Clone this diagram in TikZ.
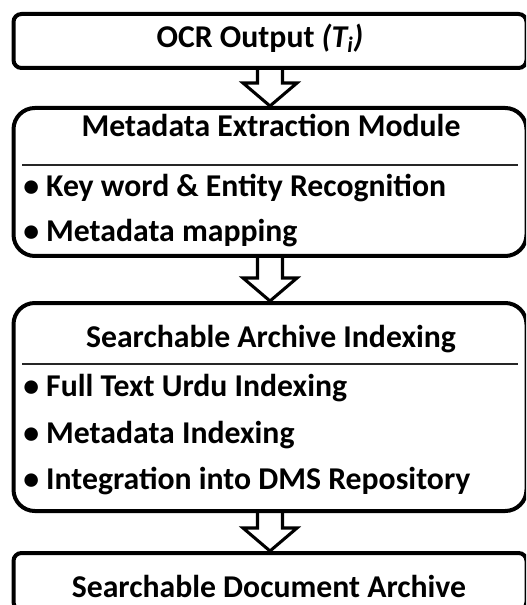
\documentclass[tikz,border=0pt]{standalone}
\usepackage{fontspec}
\setmainfont{Carlito}
\usetikzlibrary{calc}

% hollow down arrow from the bottom of one box to the top of the next
\newcommand{\flowarrow}[2]{%
  \draw[flow] ($(#1.south)+(-12.5,0)$) -- ($(#2.north)+(-12.5,-23)$)
    -- ($(#2.north)+(-27,-23)$) -- (#2.north) -- ($(#2.north)+(27,-23)$)
    -- ($(#2.north)+(12.5,-23)$) -- ($(#1.south)+(12.5,0)$);}

\begin{document}
\begin{tikzpicture}[x=0.75pt,y=-0.75pt,
    box/.style={draw=black, line width=3pt, rounded corners=6pt, inner sep=0pt, minimum width=384.75pt},
    bigbox/.style={box, rounded corners=16pt},
    title/.style={anchor=base, inner sep=0pt, font=\fontsize{23.8}{28}\selectfont\bfseries},
    item/.style={anchor=base west, inner sep=0pt, font=\fontsize{23.8}{28}\selectfont\bfseries},
    rule/.style={line width=1pt, black!85},
    flow/.style={draw=black, line width=2.3pt, line join=miter}]
	\useasboundingbox (0,0) rectangle (526,605);
	\clip (0,0) rectangle (526,605);
	% boxes
	\node[box, minimum height=40.5pt] (ocr) at (270,41){};
	\node[bigbox, minimum height=111pt] (meta) at (270,182){};
	\node[bigbox, minimum height=156pt] (index) at (270,407){};
	\node[box, minimum height=42.75pt] (archive) at (270,581.5){};
	% titles
	\node[title] (A) at (260,48){OCR Output \textit{(T\textsubscript{i})}};
	\node[title] (B) at (271,137){Metadata Extraction Module};
	\node[title] (C) at (271,347){Searchable Archive Indexing};
	\node[title] (D) at (269,597){Searchable Document Archive};
	\draw[rule] (22,165)--(518,165);
	\draw[rule] (22,364)--(518,364);
	% bullet points
	\node[item] (B1) at (23,197){\textbullet\ Key word \& Entity Recognition};
	\node[item] (B2) at (23,242){\textbullet\ Metadata mapping};
	\node[item] (C1) at (23,396){\textbullet\ Full Text Urdu Indexing};
	\node[item] (C2) at (23,443){\textbullet\ Metadata Indexing};
	\node[item] (C3) at (23,489){\textbullet\ Integration into DMS Repository};
	% arrows
	\flowarrow{ocr}{meta}
	\flowarrow{meta}{index}
	\flowarrow{index}{archive}
\end{tikzpicture}
\end{document}
